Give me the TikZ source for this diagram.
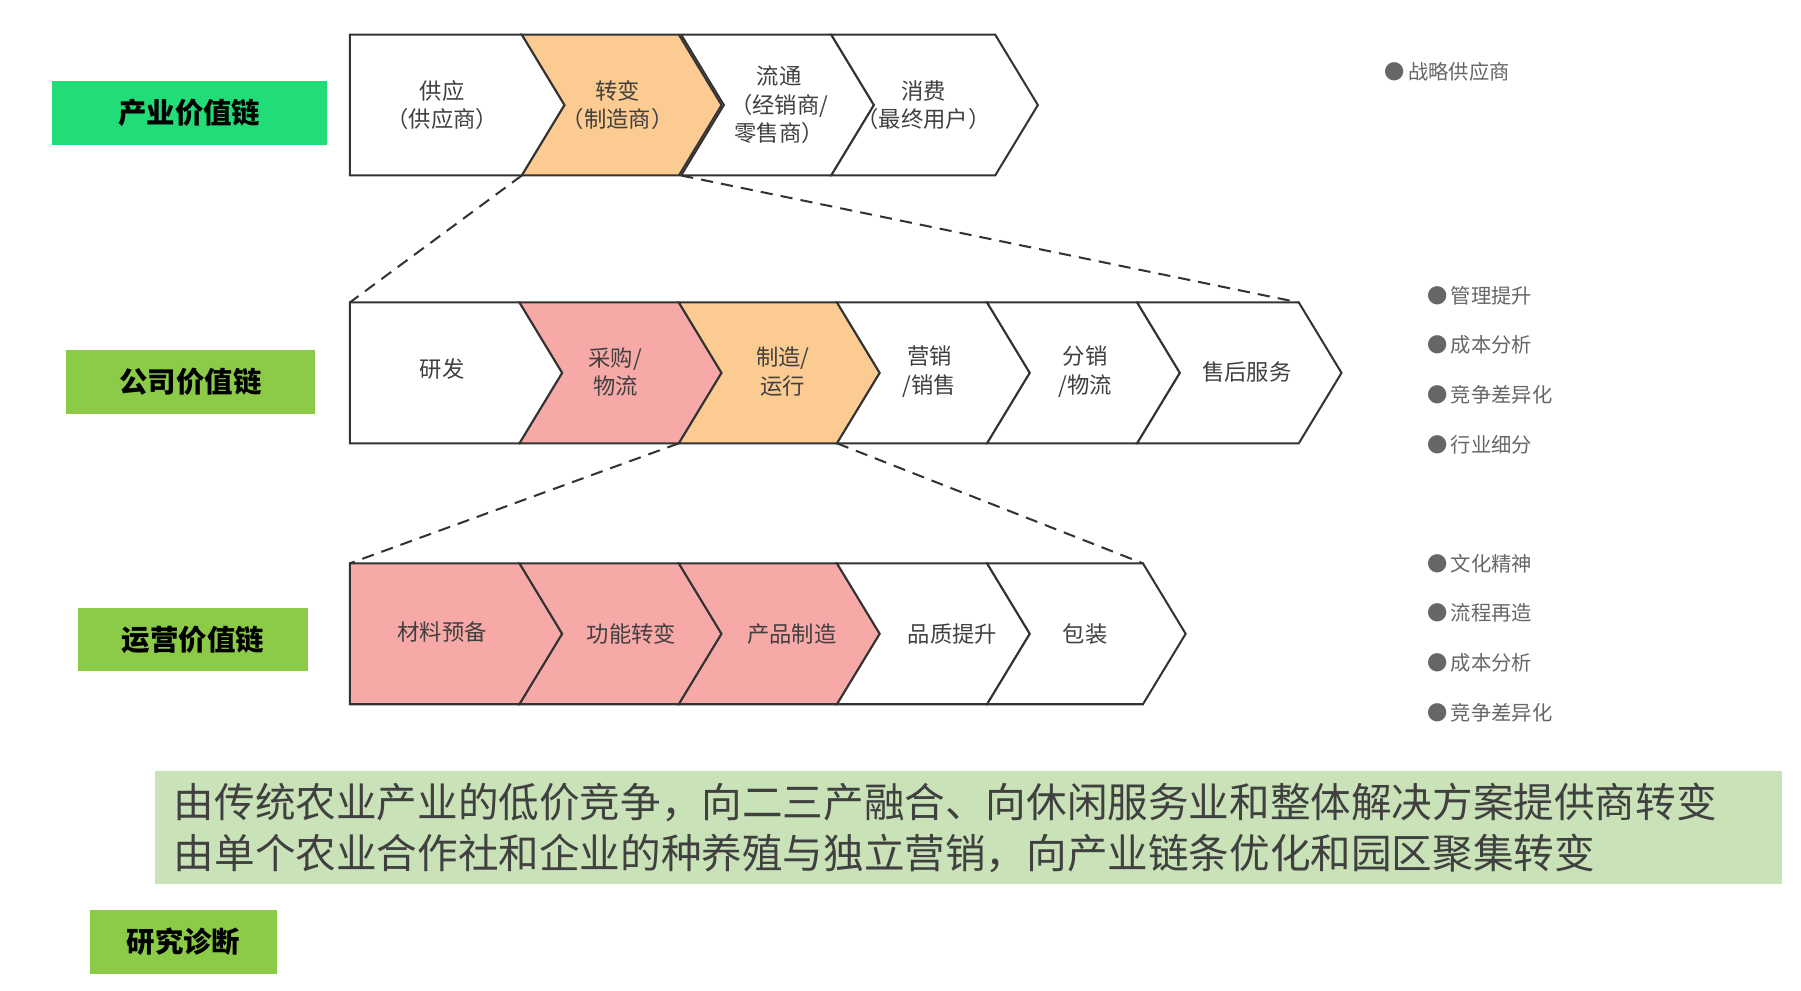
\documentclass[tikz,border=0pt]{standalone}
\usepackage{fontspec}
\setmainfont{Noto Sans CJK SC}
\usetikzlibrary{positioning}
\definecolor{orangefill}{HTML}{FCCB92}
\definecolor{pinkfill}{HTML}{F7A9A8}
\definecolor{brightgreen}{HTML}{22DD77}
\definecolor{leafgreen}{HTML}{8CCB48}
\definecolor{palegreen}{HTML}{C9E2B8}
% chevron: #1 left x, #2 right x, #3 tip depth, #4 top y, #5 bottom y, #6 fill, #7 flat left (1) or notched (0)
\newcommand{\chevron}[7]{%
  \ifnum#7=1
    \draw[chev, fill=#6] (#1,#4) -- (#2,#4) -- (#2+#3,{(#4+#5)/2}) -- (#2,#5) -- (#1,#5) -- cycle;
  \else
    \draw[chev, fill=#6] (#1,#4) -- (#2,#4) -- (#2+#3,{(#4+#5)/2}) -- (#2,#5) -- (#1,#5) -- (#1+#3,{(#4+#5)/2}) -- cycle;
  \fi}
\begin{document}
\begin{tikzpicture}[x=0.01cm, y=-0.01cm]
  \tikzset{chev/.style={draw=black!80, line width=0.5pt},
           steptext/.style={font=\fontsize{5.5}{7}\selectfont, align=center, text=black!75},
           chainlabel/.style={font=\bfseries\fontsize{7}{8}\selectfont, minimum height=0.55cm, inner sep=2pt},
           bulletitem/.style={font=\fontsize{5}{6}\selectfont, text=black!60, anchor=west, inner sep=1pt},
           guide/.style={densely dashed, line width=0.5pt, black!80}}
  \useasboundingbox (0,0) rectangle (1560,858);

  % row 1
  \chevron{303}{452}{37}{30}{152}{white}{1}
  \chevron{452}{588}{37}{30}{152}{orangefill}{0}
  \chevron{590}{720}{37}{30}{152}{white}{0}
  \chevron{720}{862}{37}{30}{152}{white}{0}
  \node[steptext] (supply) at (383,91) {供应\\（供应商）};
  \node[steptext] (transform) at (535,91) {转变\\（制造商）};
  \node[steptext] (flow) at (675,91) {流通\\（经销商/\\零售商）};
  \node[steptext] (consume) at (800,91) {消费\\（最终用户）};
  \node[chainlabel, fill=brightgreen, minimum width=2.38cm] (industry) at (164,98) {产业价值链};

  % row 2
  \chevron{303}{450}{37}{262}{384}{white}{1}
  \chevron{450}{588}{37}{262}{384}{pinkfill}{0}
  \chevron{588}{725}{37}{262}{384}{orangefill}{0}
  \chevron{725}{855}{37}{262}{384}{white}{0}
  \chevron{855}{985}{37}{262}{384}{white}{0}
  \chevron{985}{1125}{37}{262}{384}{white}{0}
  \node[steptext] (rd) at (383,320) {研发};
  \node[steptext] (purchase) at (533,322) {采购/\\物流};
  \node[steptext] (make) at (678,322) {制造/\\运行};
  \node[steptext] (market) at (805,322) {营销\\/销售};
  \node[steptext] (distrib) at (940,322) {分销\\/物流};
  \node[steptext] (service) at (1080,322) {售后服务};
  \node[chainlabel, fill=leafgreen, minimum width=2.15cm] (company) at (165,331) {公司价值链};

  % row 3
  \chevron{303}{450}{37}{488}{610}{pinkfill}{1}
  \chevron{450}{588}{37}{488}{610}{pinkfill}{0}
  \chevron{588}{725}{37}{488}{610}{pinkfill}{0}
  \chevron{725}{855}{37}{488}{610}{white}{0}
  \chevron{855}{990}{37}{488}{610}{white}{0}
  \node[steptext] (material) at (383,547) {材料预备};
  \node[steptext] (function) at (547,549) {功能转变};
  \node[steptext] (product) at (686,549) {产品制造};
  \node[steptext] (quality) at (825,549) {品质提升};
  \node[steptext] (pack) at (940,549) {包装};
  \node[chainlabel, fill=leafgreen, minimum width=1.99cm] (operate) at (167,554) {运营价值链};

  % zoom guides
  \draw[guide] (452,152) -- (303,262);
  \draw[guide] (590,152) -- (1125,262);
  \draw[guide] (588,384) -- (303,488);
  \draw[guide] (725,384) -- (990,488);

  % bullets
  \node[bulletitem] (b0) at (1195,62) {{\tiny●}\,战略供应商};
  \foreach \txt [count=\i] in {管理提升,成本分析,竞争差异化,行业细分}
    \node[bulletitem] (c\i) at (1232,213+43*\i) {{\tiny●}\,\txt};
  \foreach \txt [count=\i] in {文化精神,流程再造,成本分析,竞争差异化}
    \node[bulletitem] (d\i) at (1232,445+43*\i) {{\tiny●}\,\txt};

  % summary
  \node[fill=palegreen, minimum width=14.08cm, minimum height=0.98cm, inner sep=0pt] (summary) at (839,717) {};
  \node[font=\fontsize{10}{12.5}\selectfont, align=left, text=black!75, anchor=west, inner sep=0pt] (summarytext) at (150,717)
    {由传统农业产业的低价竞争，向二三产融合、向休闲服务业和整体解决方案提供商转变\\由单个农业合作社和企业的种养殖与独立营销，向产业链条优化和园区聚集转变};
  \node[chainlabel, fill=leafgreen, minimum width=1.62cm] (diagnose) at (159,816) {研究诊断};
\end{tikzpicture}
\end{document}
